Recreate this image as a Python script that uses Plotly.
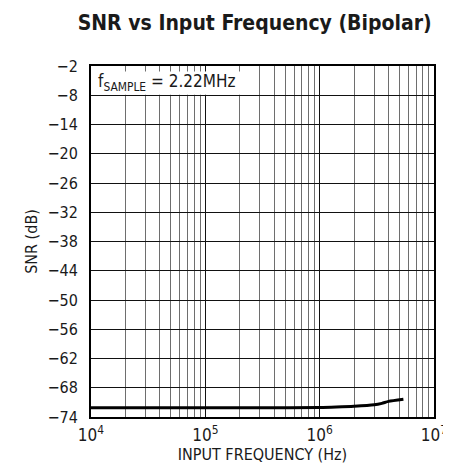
import plotly.graph_objects as go

freq_hz = [1e4, 3e4, 1e5, 3e5, 1e6, 1.4e6, 2e6, 3e6, 3.5e6, 4e6, 5.4e6]
snr_db = [-72.1, -72.1, -72.1, -72.1, -72.05, -71.95, -71.8, -71.5, -71.2, -70.8, -70.35]
y_ticks = [-2, -8, -14, -20, -26, -32, -38, -44, -50, -56, -62, -68, -74]
x_ticks = [1e4, 1e5, 1e6, 1e7]
x_tick_text = ["10<sup>4</sup>", "10<sup>5</sup>", "10<sup>6</sup>", "10<sup>7</sup>"]

FONT = "DejaVu Sans Condensed, Liberation Sans Narrow, Arial Narrow, sans-serif"

fig = go.Figure()
fig.add_trace(go.Scatter(x=freq_hz, y=snr_db, mode="lines",
                         line=dict(color="black", width=3, shape="spline", smoothing=0.6),
                         showlegend=False, hoverinfo="skip"))

fig.update_layout(
    width=451, height=465,
    margin=dict(l=83, r=16, t=58, b=56),
    paper_bgcolor="white", plot_bgcolor="white",
    font=dict(family=FONT, color="#1a1a1a", size=15),
    title=dict(text="<b>SNR vs Input Frequency (Bipolar)</b>",
               x=0.547, xanchor="center", y=0.985, yanchor="top",
               font=dict(family=FONT, size=21, color="#1a1a1a")),
    xaxis=dict(type="log", range=[4, 7], tickvals=x_ticks, ticktext=x_tick_text,
               showgrid=True, gridcolor="#111111", gridwidth=1,
               minor=dict(dtick="D1", showgrid=True, gridcolor="#6e6e6e", gridwidth=1, ticks=""),
               ticks="", showline=True, linecolor="black", linewidth=2, mirror=True,
               zeroline=False, tickfont=dict(size=17), ticklabelstandoff=2,
               title=dict(text="INPUT FREQUENCY (Hz)", font=dict(size=16), standoff=2)),
    yaxis=dict(range=[-74, -2], tickvals=y_ticks,
               tickmode="array", ticktext=["\u2212" + str(abs(v)) for v in y_ticks],
               showgrid=True, gridcolor="#111111", gridwidth=1,
               ticks="", showline=True, linecolor="black", linewidth=2, mirror=True,
               zeroline=False, tickfont=dict(size=16), ticklabelstandoff=8,
               title=dict(text="SNR (dB)", font=dict(size=16), standoff=6)),
)

fig.add_shape(type="rect", xref="paper", yref="paper", x0=0.006, x1=0.452, y0=0.918, y1=0.984,
              fillcolor="white", line=dict(width=0), layer="above")
fig.add_annotation(xref="paper", yref="paper", x=0.016, y=0.953, xanchor="left", yanchor="middle",
                   text="f<sub>SAMPLE</sub> = 2.22MHz", showarrow=False,
                   font=dict(family=FONT, size=17, color="#1a1a1a"))
fig.add_annotation(xref="paper", yref="paper", x=-0.245, y=0.034, xanchor="right", yanchor="middle",
                   text="7", showarrow=False, font=dict(family=FONT, size=11, color="#1a1a1a"))

fig.write_html("out.html")
